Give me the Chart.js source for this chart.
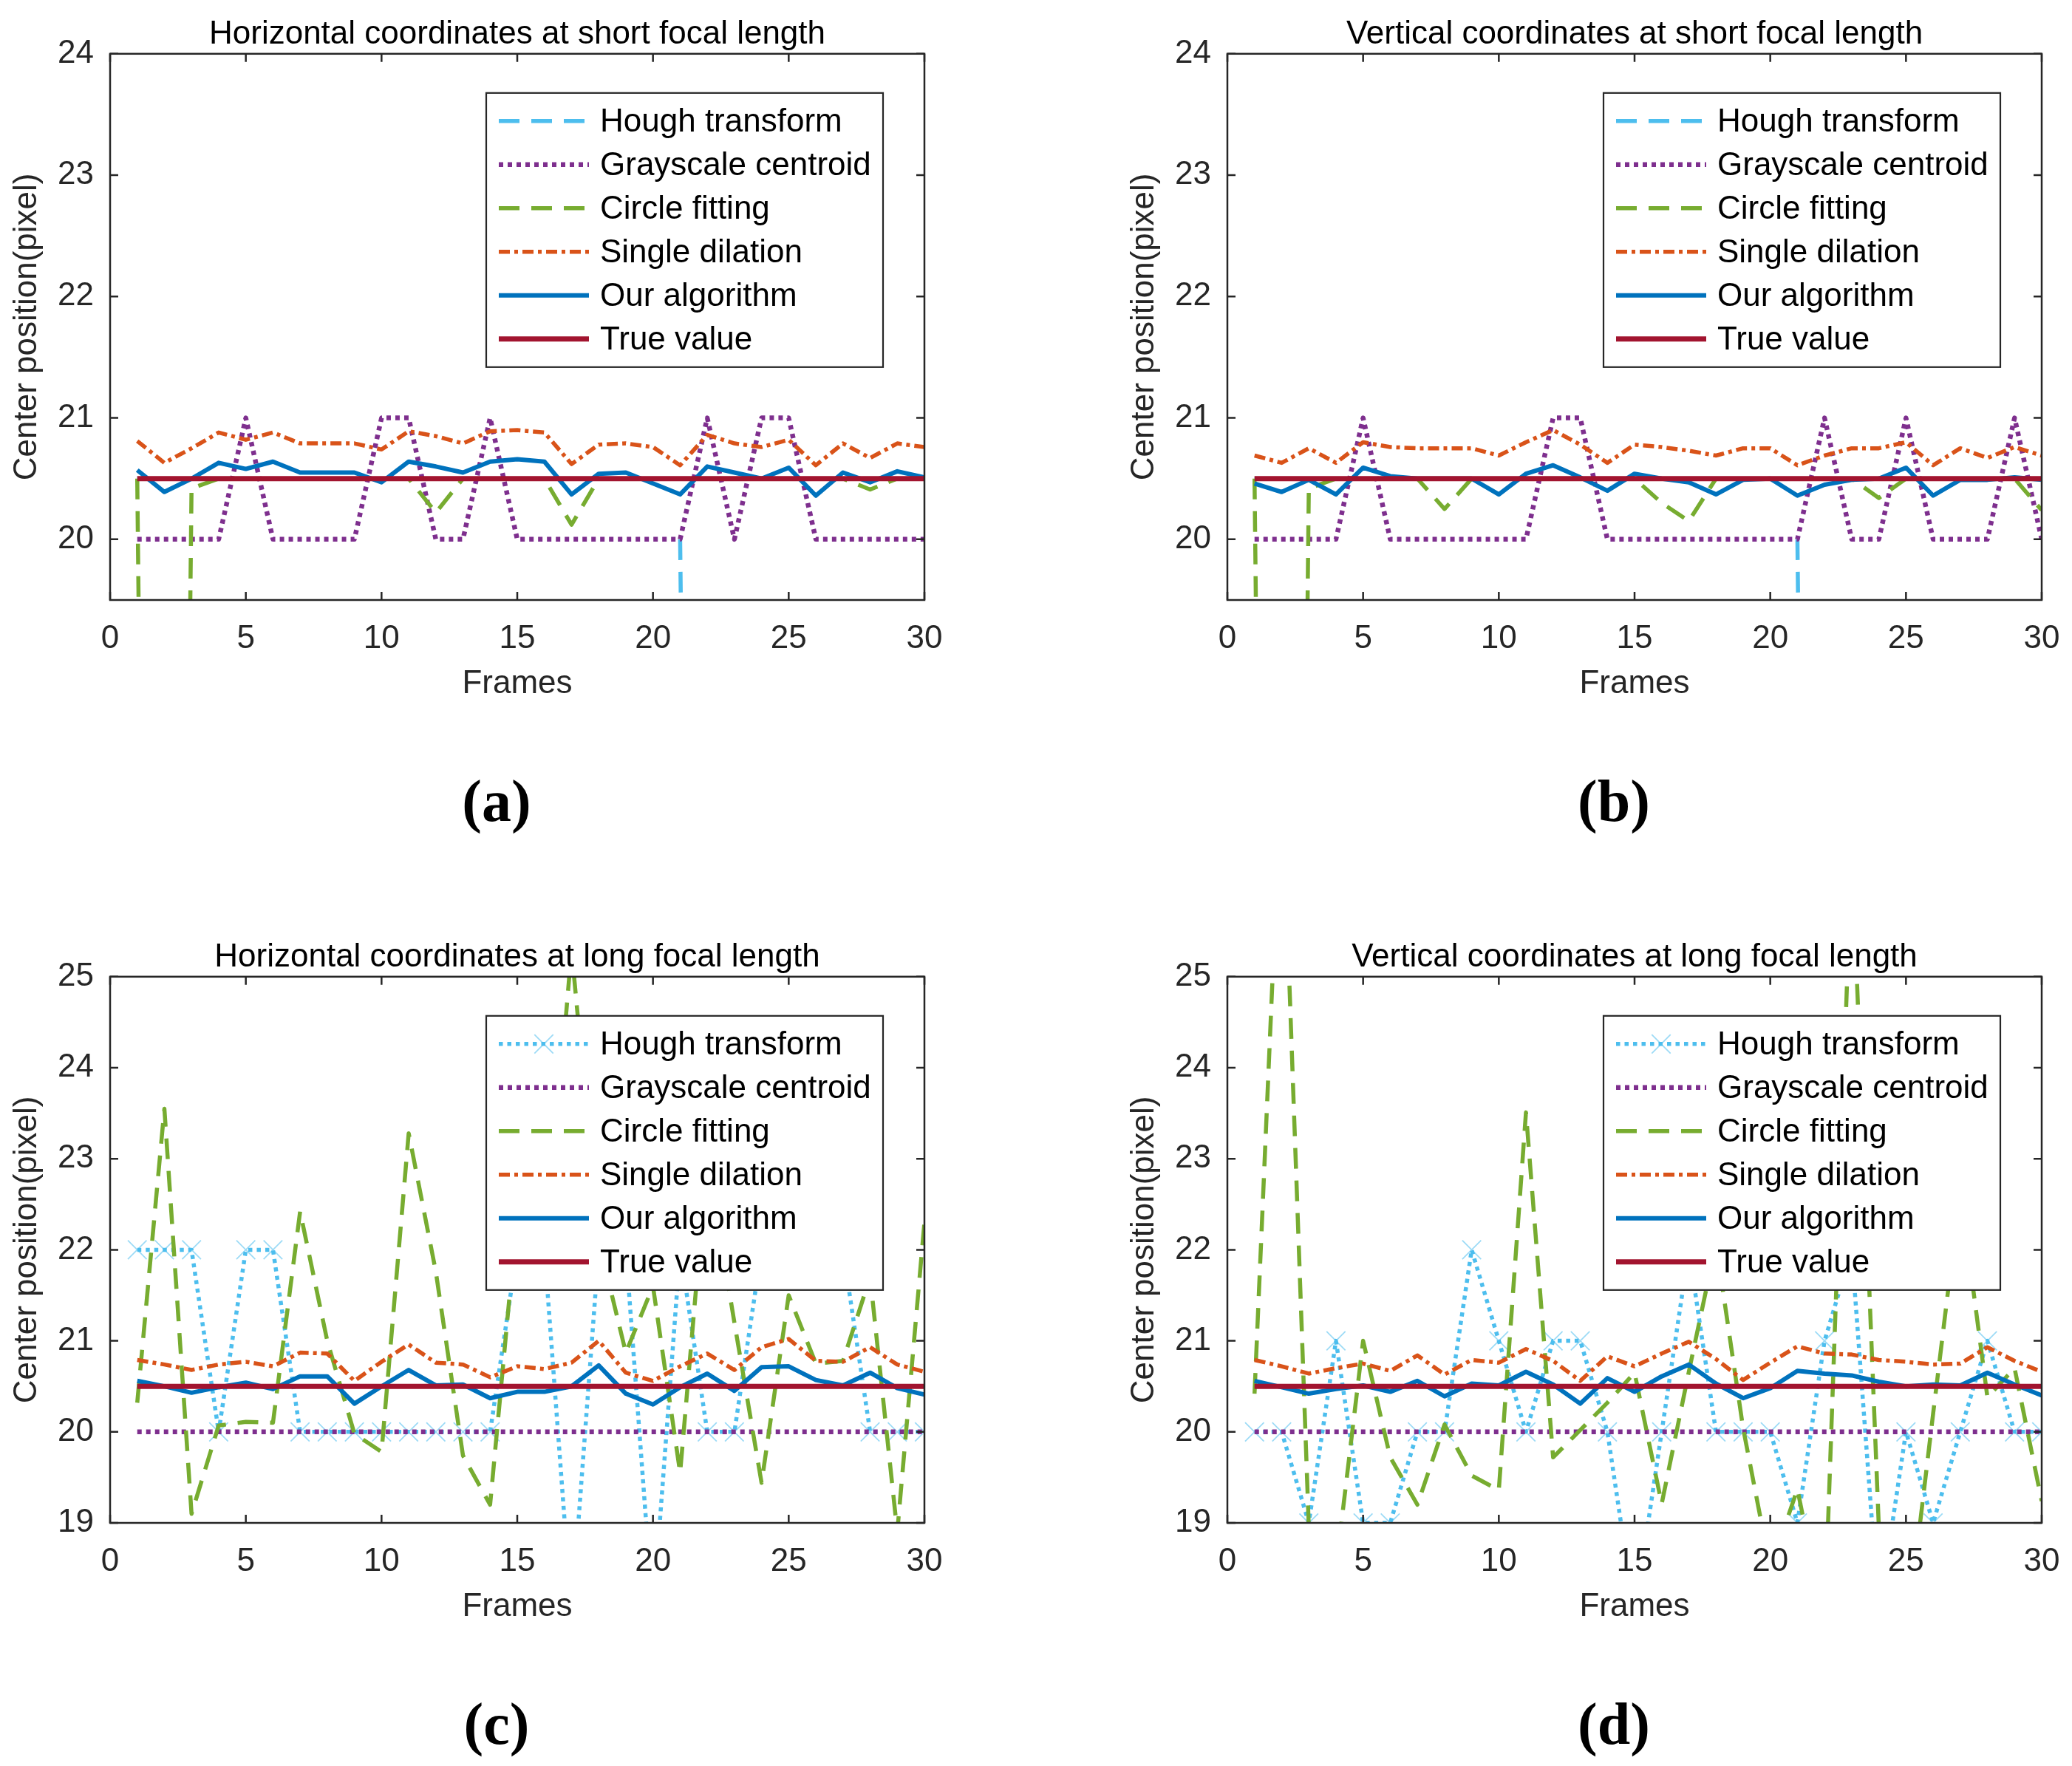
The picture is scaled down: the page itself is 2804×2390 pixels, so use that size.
<!DOCTYPE html>
<html>
<head>
<meta charset="utf-8">
<script src="https://cdn.jsdelivr.net/npm/chart.js@4.4.1/dist/chart.umd.min.js"></script>
<style>
  html, body { margin: 0; padding: 0; background: #fff; overflow: hidden; width: 2804px; height: 2390px; }
  .panel { position: absolute; }
  .tag { position: absolute; transform: translate(-50%, -50%); font-family: "Liberation Serif", "DejaVu Serif", serif; font-weight: bold; font-size: 80px; color: #000; }
</style>
</head>
<body>
<div class="panel" style="left:0px;top:0px"><canvas id="chartA" width="1400" height="952"></canvas></div>
<div class="panel" style="left:1512px;top:0px"><canvas id="chartB" width="1400" height="952"></canvas></div>
<div class="panel" style="left:0px;top:1249px"><canvas id="chartC" width="1400" height="952"></canvas></div>
<div class="panel" style="left:1512px;top:1249px"><canvas id="chartD" width="1400" height="952"></canvas></div>
<div class="tag" style="left:672px;top:1084px">(a)</div>
<div class="tag" style="left:2184px;top:1084px">(b)</div>
<div class="tag" style="left:672px;top:2333px">(c)</div>
<div class="tag" style="left:2184px;top:2333px">(d)</div>
<script>
// Frames and ticks
const frames = [1,2,3,4,5,6,7,8,9,10,11,12,13,14,15,16,17,18,19,20,21,22,23,24,25,26,27,28,29,30];
const xTicks = [0,5,10,15,20,25,30];
const yTicksShort = [20,21,22,23,24];
const yTicksLong = [19,20,21,22,23,24,25];

// True value line
const truthFrames = [1, 30];
const truthValues = [20.5, 20.5];

// (a) Horizontal, short focal length
const houghA = [20.5,20.5,20.5,20.5,20.5,20.5,20.5,20.5,20.5,20.5,20.5,20.5,20.5,20.5,20.5,20.5,20.5,20.5,20.5,null,20,0,0,0,0,0,0,0,0,0];
const grayA = [20,20,20,20,21,20,20,20,20,21,21,20,20,21,20,20,20,20,20,20,20,21,20,21,21,20,20,20,20,20];
const circleA = [20.5,0,20.42,20.5,20.5,20.5,20.5,20.5,20.5,20.5,20.5,20.22,20.5,20.5,20.5,20.5,20.12,20.5,20.5,20.5,20.5,20.5,20.5,20.5,20.5,20.5,20.5,20.41,20.5,20.5];
const dilationA = [20.81,20.63,20.75,20.88,20.82,20.88,20.79,20.79,20.79,20.74,20.89,20.85,20.79,20.89,20.9,20.88,20.62,20.78,20.79,20.76,20.61,20.86,20.79,20.76,20.82,20.61,20.79,20.67,20.79,20.76];
const oursA = [20.57,20.39,20.5,20.63,20.58,20.64,20.55,20.55,20.55,20.47,20.64,20.6,20.55,20.64,20.66,20.64,20.37,20.54,20.55,20.46,20.37,20.6,20.55,20.5,20.59,20.36,20.55,20.47,20.56,20.51];

// (b) Vertical, short focal length
const houghB = [20.5,20.5,20.5,20.5,20.5,20.5,20.5,20.5,20.5,20.5,20.5,20.5,20.5,20.5,20.5,20.5,20.5,20.5,20.5,null,20,0,0,0,0,0,0,0,0,0];
const grayB = [20,20,20,20,21,20,20,20,20,20,20,21,21,20,20,20,20,20,20,20,20,21,20,20,21,20,20,20,21,20];
const circleB = [20.5,0,20.42,20.5,20.5,20.5,20.5,20.25,20.5,20.5,20.5,20.5,20.5,20.5,20.5,20.3,20.15,20.5,20.5,20.5,20.5,20.5,20.5,20.34,20.5,20.5,20.5,20.5,20.5,20.24];
const dilationB = [20.69,20.63,20.75,20.63,20.8,20.76,20.75,20.75,20.75,20.69,20.8,20.9,20.78,20.63,20.78,20.76,20.73,20.69,20.75,20.75,20.61,20.69,20.75,20.75,20.8,20.61,20.75,20.67,20.76,20.69];
const oursB = [20.46,20.39,20.49,20.37,20.59,20.52,20.5,20.5,20.5,20.37,20.54,20.61,20.51,20.4,20.54,20.5,20.47,20.37,20.49,20.5,20.36,20.45,20.49,20.5,20.59,20.36,20.49,20.49,20.51,20.49];

// (c) Horizontal, long focal length
const houghC = [22,22,22,20,22,22,20,20,20,20,20,20,20,20,22,22,18,22,22,18,22,20,20,22,22,22,22,20,20,20];
const grayC = [20,20,20,20,20,20,20,20,20,20,20,20,20,20,20,20,20,20,20,20,20,20,20,20,20,20,20,20,20,20];
const circleC = [20.32,23.55,19.1,20.07,20.11,20.1,22.42,21.0,19.98,19.78,23.28,21.76,19.74,19.2,22.4,21.75,25.3,22.1,20.87,21.6,19.55,23.0,21.2,19.44,21.5,20.75,20.78,21.7,18.9,22.3];
const dilationC = [20.79,20.74,20.68,20.74,20.77,20.72,20.87,20.86,20.56,20.77,20.96,20.76,20.74,20.6,20.72,20.69,20.76,21.0,20.65,20.56,20.72,20.86,20.68,20.93,21.02,20.78,20.77,20.93,20.74,20.66];
const oursC = [20.56,20.5,20.43,20.49,20.54,20.47,20.61,20.61,20.31,20.5,20.68,20.51,20.52,20.37,20.44,20.44,20.5,20.73,20.42,20.3,20.49,20.64,20.45,20.71,20.72,20.57,20.51,20.65,20.48,20.41];

// (d) Vertical, long focal length
const houghD = [20,20,19,21,19,19,20,20,22,21,20,21,21,20,18,20,22,20,20,20,19,21,22,18,20,19,20,21,20,20];
const grayD = [20,20,20,20,20,20,20,20,20,20,20,20,20,20,20,20,20,20,20,20,20,20,20,20,20,20,20,20,20,20];
const circleD = [20.42,27.3,18.95,18.5,21.0,19.72,19.2,20.08,19.52,19.36,23.51,19.72,20.02,20.32,20.65,19.21,20.66,22.07,20.04,18.5,19.37,17.9,26.4,18.95,17.7,20.2,22.65,20.38,20.7,19.24];
const dilationD = [20.79,20.72,20.64,20.7,20.75,20.67,20.84,20.63,20.79,20.76,20.91,20.78,20.56,20.83,20.72,20.86,20.99,20.8,20.57,20.76,20.94,20.86,20.85,20.79,20.77,20.74,20.75,20.93,20.78,20.66];
const oursD = [20.56,20.49,20.42,20.47,20.51,20.44,20.56,20.39,20.53,20.51,20.66,20.52,20.31,20.59,20.44,20.61,20.74,20.53,20.37,20.48,20.67,20.64,20.62,20.55,20.5,20.52,20.51,20.65,20.52,20.4];

const FONT = '"Liberation Sans", Arial, sans-serif';
const AXIS_COLOR = '#262626';

function toPoints(xs, ys) {
  return xs.map((x, i) => ({ x: x, y: ys[i] }));
}

// Axes box with inward ticks (MATLAB look) plus the boxed legend inside the plot
const matlabFrame = {
  id: 'matlabFrame',
  afterDraw(chart) {
    const { ctx, chartArea: a, scales } = chart;
    const xs = scales.x, ys = scales.y;
    ctx.save();
    ctx.setLineDash([]);
    ctx.strokeStyle = AXIS_COLOR;
    ctx.lineWidth = 2.5;
    ctx.beginPath();
    xs.ticks.forEach(t => {
      const px = xs.getPixelForValue(t.value);
      ctx.moveTo(px, a.bottom); ctx.lineTo(px, a.bottom - 11);
      ctx.moveTo(px, a.top); ctx.lineTo(px, a.top + 11);
    });
    ys.ticks.forEach(t => {
      const py = ys.getPixelForValue(t.value);
      ctx.moveTo(a.left, py); ctx.lineTo(a.left + 11, py);
      ctx.moveTo(a.right, py); ctx.lineTo(a.right - 11, py);
    });
    ctx.stroke();
    ctx.strokeRect(a.left, a.top, a.right - a.left, a.bottom - a.top);

    // legend
    const w = 537, h = 371;
    const lx = a.right - 56 - w, ly = a.top + 53;
    ctx.fillStyle = '#fff';
    ctx.fillRect(lx, ly, w, h);
    ctx.lineWidth = 2.2;
    ctx.strokeStyle = AXIS_COLOR;
    ctx.strokeRect(lx, ly, w, h);
    const items = chart.data.datasets.slice().reverse();
    items.forEach((ds, i) => {
      const cy = ly + 38 + i * 59;
      ctx.save();
      ctx.strokeStyle = ds.borderColor;
      ctx.lineWidth = ds.borderWidth;
      ctx.setLineDash(ds.borderDash || []);
      ctx.beginPath();
      ctx.moveTo(lx + 17, cy);
      ctx.lineTo(lx + 139, cy);
      ctx.stroke();
      if (ds.pointRadius > 0) {
        const r = ds.pointRadius * 0.707;
        const cx = lx + 78;
        ctx.setLineDash([]);
        ctx.strokeStyle = ds.pointBorderColor;
        ctx.lineWidth = ds.pointBorderWidth;
        ctx.beginPath();
        ctx.moveTo(cx - r, cy - r); ctx.lineTo(cx + r, cy + r);
        ctx.moveTo(cx - r, cy + r); ctx.lineTo(cx + r, cy - r);
        ctx.stroke();
      }
      ctx.restore();
      ctx.fillStyle = '#000';
      ctx.font = '44px ' + FONT;
      ctx.textBaseline = 'middle';
      ctx.textAlign = 'left';
      ctx.fillText(ds.label, lx + 154, cy + 2);
    });
    ctx.restore();
  }
};

function buildChart(canvasId, titleText, yMin, yMax, yTicks, s, markedHough) {
  const ctx = document.getElementById(canvasId).getContext('2d');
  const datasets = [
    { label: 'True value', data: toPoints(truthFrames, truthValues), borderColor: '#A2142F', borderWidth: 7 },
    { label: 'Our algorithm', data: toPoints(frames, s.ours), borderColor: '#0072BD', borderWidth: 6 },
    { label: 'Single dilation', data: toPoints(frames, s.dilation), borderColor: '#D95319', borderWidth: 5.5, borderDash: [15, 6, 5, 6] },
    { label: 'Circle fitting', data: toPoints(frames, s.circle), borderColor: '#77AC30', borderWidth: 5.5, borderDash: [28, 16] },
    { label: 'Grayscale centroid', data: toPoints(frames, s.gray), borderColor: '#7E2F8E', borderWidth: 6.5, borderDash: [6, 6] },
    {
      label: 'Hough transform', data: toPoints(frames, s.hough), borderColor: '#4DBEEE', borderWidth: 5.5,
      borderDash: markedHough ? [5.5, 6] : [28, 16],
      pointStyle: 'crossRot', pointRadius: markedHough ? 18 : 0,
      pointBorderColor: 'rgba(77,190,238,0.55)', pointBorderWidth: 1.8
    }
  ];
  datasets.forEach(d => {
    d.fill = false;
    d.tension = 0;
    d.clip = 0;
    d.spanGaps = false;
    d.borderJoinStyle = 'round';
    if (d.pointRadius === undefined) d.pointRadius = 0;
  });

  return new Chart(ctx, {
    type: 'line',
    data: { datasets: datasets },
    options: {
      responsive: false,
      animation: false,
      events: [],
      layout: { padding: 0 },
      plugins: {
        legend: { display: false },
        tooltip: { enabled: false },
        title: {
          display: true,
          text: titleText,
          color: '#000',
          font: { family: FONT, size: 44, weight: 'normal', lineHeight: 1.2 },
          padding: { top: 20, bottom: 0 }
        }
      },
      scales: {
        x: {
          type: 'linear',
          min: 0,
          max: 30,
          grid: { display: false, drawTicks: false },
          border: { display: false },
          afterBuildTicks: scale => { scale.ticks = xTicks.map(v => ({ value: v })); },
          afterFit: scale => { scale.height = 140; },
          ticks: { color: AXIS_COLOR, padding: 26, autoSkip: false, maxRotation: 0, font: { family: FONT, size: 44 } },
          title: { display: true, text: 'Frames', color: AXIS_COLOR, padding: { top: 0, bottom: 0 }, font: { family: FONT, size: 44 } }
        },
        y: {
          type: 'linear',
          min: yMin,
          max: yMax,
          grid: { display: false, drawTicks: false },
          border: { display: false },
          afterBuildTicks: scale => { scale.ticks = yTicks.map(v => ({ value: v })); },
          afterFit: scale => { scale.width = 149; },
          ticks: { color: AXIS_COLOR, padding: 22, font: { family: FONT, size: 44 } },
          title: { display: true, text: 'Center position(pixel)', color: AXIS_COLOR, padding: { top: 10, bottom: 0 }, font: { family: FONT, size: 44 } }
        },
        // empty right axis so the title centres over the plot
        yPad: {
          type: 'linear',
          position: 'right',
          min: yMin,
          max: yMax,
          grid: { display: false, drawTicks: false },
          border: { display: false },
          ticks: { display: false },
          afterFit: scale => { scale.width = 149; }
        }
      }
    },
    plugins: [matlabFrame]
  });
}

buildChart('chartA', 'Horizontal coordinates at short focal length', 19.5, 24, yTicksShort,
  { hough: houghA, gray: grayA, circle: circleA, dilation: dilationA, ours: oursA }, false);
buildChart('chartB', 'Vertical coordinates at short focal length', 19.5, 24, yTicksShort,
  { hough: houghB, gray: grayB, circle: circleB, dilation: dilationB, ours: oursB }, false);
buildChart('chartC', 'Horizontal coordinates at long focal length', 19, 25, yTicksLong,
  { hough: houghC, gray: grayC, circle: circleC, dilation: dilationC, ours: oursC }, true);
buildChart('chartD', 'Vertical coordinates at long focal length', 19, 25, yTicksLong,
  { hough: houghD, gray: grayD, circle: circleD, dilation: dilationD, ours: oursD }, true);
</script>
</body>
</html>
